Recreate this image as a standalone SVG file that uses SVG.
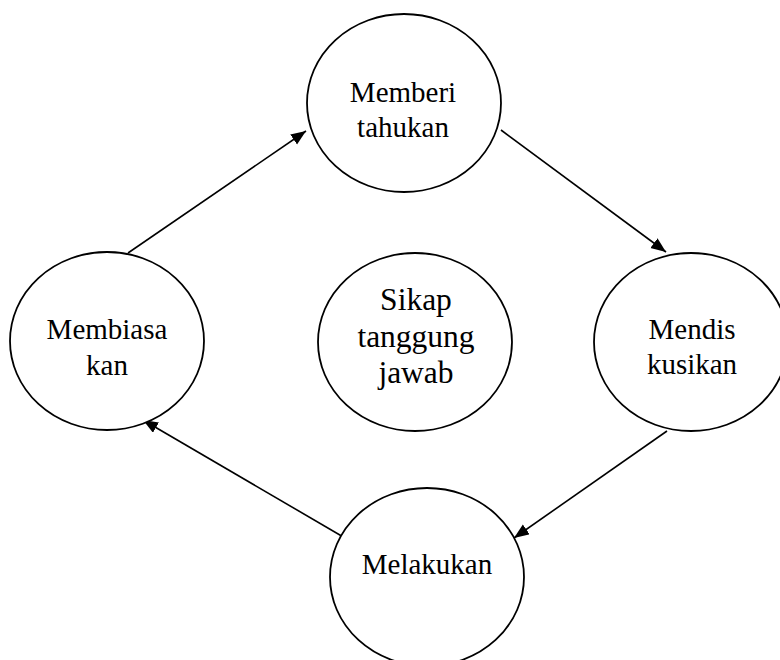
<svg xmlns="http://www.w3.org/2000/svg" width="780" height="660" viewBox="0 0 780 660">
<style>
.node ellipse{fill:#fff;stroke:#000;stroke-width:1.8}
.node text{font-family:"Liberation Serif","Times New Roman",serif;font-size:29px;fill:#000;text-anchor:middle}
.node text.big{font-size:31.5px}
.conn line{stroke:#000;stroke-width:1.6;fill:none;marker-end:url(#arr)}
</style>
<defs>
<marker id="arr" markerUnits="userSpaceOnUse" markerWidth="16" markerHeight="13" refX="15" refY="6" orient="auto">
<path d="M0,0 L15,6 L0,12 z" fill="#000"/>
</marker>
</defs>
<rect width="780" height="660" fill="#fff"/>
<g id="connectors" class="conn">
<line x1="128" y1="253" x2="306" y2="131"/>
<line x1="501" y1="130" x2="666" y2="252"/>
<line x1="667" y1="431" x2="514" y2="538"/>
<line x1="345" y1="538" x2="143" y2="420"/>
</g>
<g id="memberi" class="node">
<ellipse cx="404" cy="103" rx="97" ry="89"/>
<text x="403" y="102">Memberi</text>
<text x="403" y="137">tahukan</text>
</g>
<g id="membiasakan" class="node">
<ellipse cx="107" cy="341" rx="97" ry="89"/>
<text x="107" y="339">Membiasa</text>
<text x="107" y="375">kan</text>
</g>
<g id="sikap" class="node">
<ellipse cx="415" cy="342" rx="97" ry="89"/>
<text class="big" x="416" y="310">Sikap</text>
<text class="big" x="416" y="347">tanggung</text>
<text class="big" x="416" y="383">jawab</text>
</g>
<g id="mendiskusikan" class="node">
<ellipse cx="691" cy="342" rx="97" ry="89"/>
<text x="692" y="339">Mendis</text>
<text x="692" y="374">kusikan</text>
</g>
<g id="melakukan" class="node">
<ellipse cx="427" cy="577" rx="97" ry="89"/>
<text x="427" y="574">Melakukan</text>
</g>
</svg>
